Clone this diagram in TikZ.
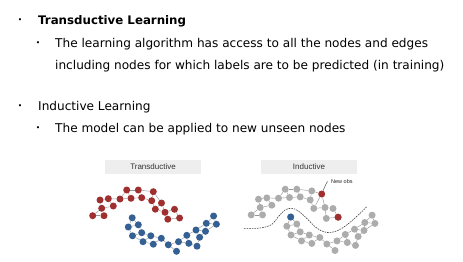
\documentclass[tikz,border=0pt]{standalone}
\usepackage{fontspec}
\setmainfont{DejaVu Sans}
\newfontfamily\arialf{Liberation Sans}
\definecolor{nred}{RGB}{160,48,48}
\definecolor{nblue}{RGB}{52,96,148}
\definecolor{ngray}{RGB}{172,172,172}
\definecolor{nedge}{RGB}{150,150,150}
\definecolor{boxfill}{RGB}{238,238,238}
\pgfdeclarelayer{bg}
\pgfsetlayers{bg,main}
\begin{document}
\begin{tikzpicture}[x=1pt,y=-1pt,
  dotn/.style={circle,inner sep=0pt,minimum size=7pt,draw=none},
  rn/.style={dotn,fill=nred},
  bn/.style={dotn,fill=nblue},
  gn/.style={dotn,fill=ngray},
  edge/.style={draw=nedge,line width=0.45pt},
  txt/.style={anchor=west,inner sep=0pt,font=\fontsize{12.1}{14}\selectfont},
  bul/.style={anchor=center,inner sep=0pt,font=\fontsize{7.5}{8}\selectfont},
  lbox/.style={fill=boxfill,draw=none,minimum height=14.5pt,inner sep=0pt,font=\arialf\fontsize{8}{9}\selectfont,text=black!80}
]
\useasboundingbox (0,0) rectangle (463,262);
% text
\node[bul] (b1) at (20,21) {•};
\node[txt,font=\bfseries\fontsize{11.8}{14}\selectfont] (t1) at (38,21) {Transductive Learning};
\node[bul] (b2) at (38,44) {•};
\node[txt] (t2) at (55,44) {The learning algorithm has access to all the nodes and edges};
\node[txt] (t3) at (55,66) {including nodes for which labels are to be predicted (in training)};
\node[bul] (b3) at (20,107) {•};
\node[txt] (t4) at (38,107) {Inductive Learning};
\node[bul] (b4) at (38,129) {•};
\node[txt] (t5) at (55,129) {The model can be applied to new unseen nodes};
% label boxes
\node[lbox,minimum width=96pt] (lt) at (153,167) {Transductive};
\node[lbox,minimum width=96pt] (li) at (309,167) {Inductive};
% coordinate lists
\def\rlist{1/92.7/215.7,2/104/215.7,3/101.7/208.3,4/100/200,5/108.3/198.7,6/113.3/206,7/120/199,8/126.7/190,9/131/198.3,10/138.3/190,11/141.7/197.7,12/153.3/191.7,13/151.7/200.7,14/161.5/203,15/155.3/209.2,16/165/212.3,17/174.5/209.3,18/167.8/219.2,19/179.6/218}
\def\blist{1/132.2/217.8,2/138.3/224.8,3/128.3/227,4/141.7/232.7,5/132.5/235.8,6/143/241.7,7/150.8/235.8,8/153.3/244.2,9/161.3/238.3,10/168.3/244.8,11/176.5/251.3,12/178.5/241.7,13/186.8/235.3,14/188.8/243.3,15/197/246.2,16/196/230,17/199.6/237.3,18/205.5/231.3,19/206.3/223.3,20/213.6/216,21/216.4/224.2}
\def\redges{1/2,1/3,2/3,3/4,3/6,4/5,5/6,5/7,7/8,7/9,8/9,8/10,9/11,10/11,10/12,11/13,12/13,12/14,13/15,14/15,14/16,15/16,16/17,16/18,17/19,18/19}
\def\bedges{1/2,1/3,2/3,2/4,3/5,4/5,4/7,5/6,6/7,6/8,7/9,8/9,9/10,10/11,10/12,12/13,12/14,13/14,14/15,13/16,15/17,16/17,16/18,17/18,18/19,16/19,19/20,19/21,20/21,18/21}
% transductive graph
\foreach \n/\x/\y in \rlist { \node[rn] (R\n) at (\x,\y) {}; }
\foreach \n/\x/\y in \blist { \node[bn] (B\n) at (\x,\y) {}; }
% inductive graph
\begin{scope}[shift={(158.5,-0.8)}]
\foreach \n/\x/\y in \rlist { \ifnum\n=14 \else\ifnum\n=16 \else \node[gn] (I\n) at (\x,\y) {}; \fi\fi }
\foreach \n/\x/\y in \blist { \node[gn] (J\n) at (\x,\y) {}; }
\end{scope}
\node[rn] (I14) at (321.7,194) {};
\node[gn] (I16) at (325,207.5) {};
\node[rn] at (I19) {};
\node[bn] at (J1) {};
% edges
\begin{pgfonlayer}{bg}
\foreach \a/\b in \redges { \draw[edge] (R\a) -- (R\b); \draw[edge] (I\a) -- (I\b); }
\foreach \a/\b in \bedges { \draw[edge] (B\a) -- (B\b); \draw[edge] (J\a) -- (J\b); }
\end{pgfonlayer}
% new obs
\coordinate (nob) at (327.5,181.5);
\draw[draw=black!75,line width=0.45pt] (I14) -- (326,184) -- (nob);
\node[anchor=west,inner sep=0pt,font=\arialf\fontsize{5.5}{6}\selectfont,text=black!85] (nol) at (331,181.5) {New obs};
% dashed separator
\draw[black!75,line width=0.6pt,dash pattern=on 1.6pt off 1pt] plot[smooth,tension=0.6] coordinates {(244,228.3) (260,228) (271.7,224.5) (278.3,216.7) (285,210) (291.7,208.3) (298.3,211) (306.7,218.3) (316.7,228) (326.7,232.5) (336.7,231) (346.7,225) (358.3,215) (366.7,206.7)};
\end{tikzpicture}
\end{document}
